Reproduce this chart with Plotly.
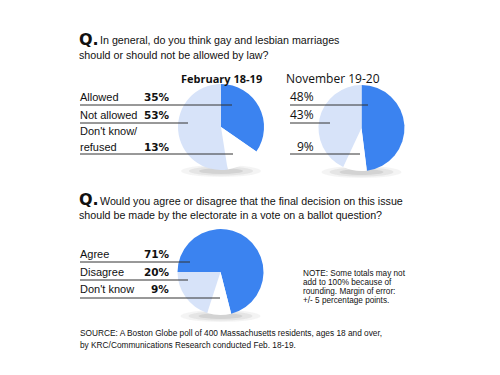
import plotly.graph_objects as go

# ---- data ----
q1_labels = ["Allowed", "Don't know/refused", "Not allowed"]
q1_feb = [35, 13, 53]
q1_nov = [48, 9, 43]
q2_labels = ["Agree", "Don't know", "Disagree"]
q2_vals = [71, 9, 20]

q1_title = ["In general, do you think gay and lesbian marriages", "should or should not be allowed by law?"]
q2_title = ["Would you agree or disagree that the final decision on this issue",
            "should be made by the electorate in a vote on a ballot question?"]
period_labels = ["February 18-19", "November 19-20"]
note_lines = ["NOTE: Some totals may not", "add to 100% because of",
              "rounding. Margin of error:", "+/- 5 percentage points."]
source_lines = ["SOURCE: A Boston Globe poll of 400 Massachusetts residents, ages 18 and over,",
                "by KRC/Communications Research conducted Feb. 18-19."]

OFF = 8  # page body margin
W, H = 500 - OFF, 375 - OFF
BLUE = "#3b83f0"
LIGHT = "#d7e3f9"
WHITE = "#ffffff"
NARROW = "Liberation Sans Narrow, Arial Narrow, Liberation Sans, Arial, sans-serif"
WIDE = "Open Sans, DejaVu Sans, sans-serif"
BOLDNUM = "DejaVu Sans, Verdana, sans-serif"

def px(x):
    return (x - OFF) / W

def py(y):
    return 1 - (y - OFF) / H

fig = go.Figure()

def add_pie(labels, vals, cx, cy, r, rotation):
    fig.add_trace(go.Pie(
        labels=labels, values=vals, sort=False, direction="clockwise",
        rotation=rotation, textinfo="none", hoverinfo="label+value",
        marker=dict(colors=[BLUE, WHITE, LIGHT], line=dict(width=0)),
        domain=dict(x=[px(cx - r), px(cx + r)], y=[py(cy + r), py(cy - r)]),
        showlegend=False,
    ))

add_pie(q1_labels, q1_feb, 221, 127, 43, 0)
add_pie(q1_labels, q1_nov, 361.5, 128, 43, 0)
add_pie(q2_labels, q2_vals, 220.5, 272, 43, 270)

shapes = []
# shadows
for cx, cy in [(221, 171), (361.5, 172), (220.5, 316)]:
    for rx, ry, op in [(40, 6, 0.08), (32, 4.5, 0.12), (22, 3, 0.16)]:
        shapes.append(dict(type="circle", xref="paper", yref="paper", layer="below",
                           x0=px(cx - rx), x1=px(cx + rx), y0=py(cy + ry), y1=py(cy - ry),
                           fillcolor=f"rgba(120,120,120,{op})", line=dict(width=0)))

def hline(x0, x1, y):
    shapes.append(dict(type="line", xref="paper", yref="paper", x0=px(x0), x1=px(x1),
                       y0=py(y), y1=py(y), line=dict(color="#333333", width=1)))

for x1, y in [(232, 105), (188, 123), (233, 154)]:
    hline(80, x1, y)
for x1, y in [(368, 105), (330, 123), (360, 154)]:
    hline(290, x1, y)
for x1, y in [(190, 262), (188, 280), (220, 298)]:
    hline(80, x1, y)

ann = []

def text(x, y, s, size, family=NARROW, bold=False, color="#111111", anchor="left"):
    ann.append(dict(x=px(x), y=py(y), xref="paper", yref="paper", text=f"<b>{s}</b>" if bold else s,
                    showarrow=False, xanchor=anchor, yanchor="middle", borderpad=0,
                    font=dict(size=size, family=family, color=color)))

# Q1
text(78, 39, "Q.", 16, family=BOLDNUM, bold=True)
text(99, 40, q1_title[0], 10.7)
text(78, 55, q1_title[1], 10.7)
text(180, 78, period_labels[0], 11, family=WIDE, bold=True)
text(285, 78, period_labels[1], 12, family=WIDE)

text(79, 97, q1_labels[0], 11)
text(79, 115, q1_labels[2], 11)
text(79, 131, "Don't know/", 11)
text(79, 146.5, "refused", 11)
text(143, 97, f"{q1_feb[0]}%", 10.5, family=BOLDNUM, bold=True)
text(143, 115, f"{q1_feb[2]}%", 10.5, family=BOLDNUM, bold=True)
text(143, 146.5, f"{q1_feb[1]}%", 10.5, family=BOLDNUM, bold=True)
text(289, 96.5, f"{q1_nov[0]}%", 12, family=WIDE)
text(289, 114.5, f"{q1_nov[2]}%", 12, family=WIDE)
text(296, 146, f"{q1_nov[1]}%", 12, family=WIDE)

# Q2
text(78, 199, "Q.", 16, family=BOLDNUM, bold=True)
text(99, 201, q2_title[0], 10.7)
text(78, 215, q2_title[1], 10.7)
text(79, 254, q2_labels[0], 11)
text(79, 272, q2_labels[2], 11)
text(79, 289, q2_labels[1], 11)
text(143, 254, f"{q2_vals[0]}%", 10.5, family=BOLDNUM, bold=True)
text(143, 272, f"{q2_vals[2]}%", 10.5, family=BOLDNUM, bold=True)
text(150, 289, f"{q2_vals[1]}%", 10.5, family=BOLDNUM, bold=True)

for i, s in enumerate(note_lines):
    text(302, 273 + i * 9.2, s, 8.2)
for i, s in enumerate(source_lines):
    text(79, 333 + i * 12, s, 8.3)

fig.update_layout(width=W, height=H, margin=dict(l=0, r=0, t=0, b=0),
                  paper_bgcolor="white", plot_bgcolor="white",
                  shapes=shapes, annotations=ann)
fig.write_html("out.html")
